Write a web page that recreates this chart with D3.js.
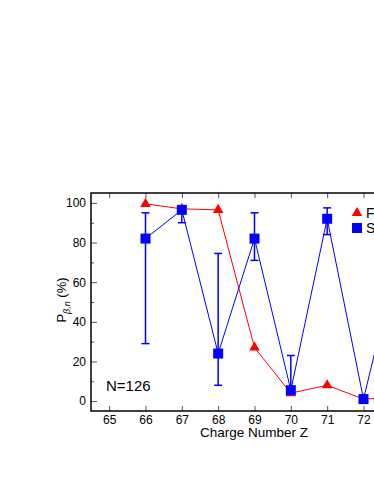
<!DOCTYPE html>
<html>
<head>
<meta charset="utf-8">
<script src="https://cdn.jsdelivr.net/npm/d3@7"></script>
<style>
  body { margin: 0; background: #fff; }
  svg { display: block; font-family: "Liberation Sans", Arial, sans-serif; }
</style>
</head>
<body>
<div id="chart"></div>
<script>
// values
var charges = [66, 67, 68, 69, 70, 71, 72, 73];
var frdm = [99.5, 97, 96.5, 27, 4, 8, 1, 2];
var sm = [82, 96.5, 24, 82, 5.5, 92, 1, 77];
var smLow = [29, 90, 8, 71, 3, 84, 0, 70];
var smHigh = [95, 97, 74.5, 95, 23, 97.5, 3, 84];
var xTicks = [65, 66, 67, 68, 69, 70, 71, 72];
var yTicks = [0, 20, 40, 60, 80, 100];
var legendNames = ["FRDM+QRPA", "Shell Model"];

var W = 374, H = 484;
var margin = {top: 193, right: -44, bottom: 73, left: 91};
var width = W - margin.left - margin.right,
    height = H - margin.top - margin.bottom;

var svg = d3.select("#chart").append("svg")
    .attr("width", W).attr("height", H)
  .append("g")
    .attr("transform", "translate(" + margin.left + "," + margin.top + ")");

var x = d3.scaleLinear().domain([64.5, 73.5]).range([0, width]);
var y = d3.scaleLinear().domain([-5, 105]).range([height, 0]);

// bottom axis, ticks pointing inward
var xAxis = svg.append("g")
  .attr("transform", "translate(0," + height + ")")
  .call(d3.axisBottom(x).tickValues(xTicks).tickSize(-5).tickPadding(4).tickFormat(d3.format("d")));
xAxis.select(".domain").remove();
xAxis.selectAll("text").style("font-size", "12px").attr("fill", "#000");
xAxis.selectAll("line").attr("stroke", "#555");

// top ticks
var xTop = svg.append("g")
  .call(d3.axisTop(x).tickValues(xTicks).tickSize(-5).tickFormat(""));
xTop.select(".domain").remove();
xTop.selectAll("line").attr("stroke", "#555");

// left axis, major + minor
var yAxis = svg.append("g")
  .call(d3.axisLeft(y).tickValues(yTicks).tickSize(-6).tickPadding(5));
yAxis.select(".domain").remove();
yAxis.selectAll("text").style("font-size", "12px").attr("fill", "#000");
yAxis.selectAll("line").attr("stroke", "#555");
var yMinor = svg.append("g")
  .call(d3.axisLeft(y).tickValues([10, 30, 50, 70, 90]).tickSize(-3).tickFormat(""));
yMinor.select(".domain").remove();
yMinor.selectAll("line").attr("stroke", "#555");

// frame
svg.append("rect")
  .attr("x", 0).attr("y", 0)
  .attr("width", width).attr("height", height)
  .attr("fill", "none").attr("stroke", "#000").attr("stroke-width", 1.5);

// red series
svg.append("path")
  .datum(charges.map(function(c, i) { return [c, frdm[i]]; }))
  .attr("fill", "none").attr("stroke", "#ff0000").attr("stroke-width", 1)
  .attr("d", d3.line().x(function(d) { return x(d[0]); }).y(function(d) { return y(d[1]); }));

// blue series line
svg.append("path")
  .datum(charges.map(function(c, i) { return [c, sm[i]]; }))
  .attr("fill", "none").attr("stroke", "#0000ff").attr("stroke-width", 1)
  .attr("d", d3.line().x(function(d) { return x(d[0]); }).y(function(d) { return y(d[1]); }));

// error bars
var eb = svg.append("g").attr("stroke", "#0000ff").attr("stroke-width", 1.5);
charges.forEach(function(c, i) {
  var cx = x(c);
  eb.append("line").attr("x1", cx).attr("x2", cx).attr("y1", y(smLow[i])).attr("y2", y(smHigh[i]));
  eb.append("line").attr("x1", cx - 4).attr("x2", cx + 4).attr("y1", y(smLow[i])).attr("y2", y(smLow[i]));
  eb.append("line").attr("x1", cx - 4).attr("x2", cx + 4).attr("y1", y(smHigh[i])).attr("y2", y(smHigh[i]));
});

// red triangles
svg.append("g").selectAll("path")
  .data(charges.map(function(c, i) { return [c, frdm[i]]; }))
  .enter().append("path")
  .attr("transform", function(d) { return "translate(" + x(d[0]) + "," + y(d[1]) + ")"; })
  .attr("d", d3.symbol().type(d3.symbolTriangle).size(48))
  .attr("fill", "#ff0000");

// blue squares
svg.append("g").selectAll("rect")
  .data(charges.map(function(c, i) { return [c, sm[i]]; }))
  .enter().append("rect")
  .attr("x", function(d) { return x(d[0]) - 5; })
  .attr("y", function(d) { return y(d[1]) - 5; })
  .attr("width", 10).attr("height", 10)
  .attr("fill", "#0000ff");

// legend
var lg = svg.append("g").attr("transform", "translate(266,20)");
lg.append("path").attr("d", d3.symbol().type(d3.symbolTriangle).size(48)).attr("fill", "#ff0000");
lg.append("text").attr("x", 9).attr("y", 5).style("font-size", "14px").text(legendNames[0]);
lg.append("rect").attr("x", -5).attr("y", 10).attr("width", 10).attr("height", 10).attr("fill", "#0000ff");
lg.append("text").attr("x", 9).attr("y", 20).style("font-size", "14px").text(legendNames[1]);

// annotation
svg.append("text").attr("x", 15).attr("y", 198).style("font-size", "15px").text("N=126");

// axis titles
svg.append("text")
  .attr("x", 163).attr("y", 244)
  .attr("text-anchor", "middle")
  .style("font-size", "13.5px")
  .text("Charge Number Z");

var yl = svg.append("text")
  .attr("transform", "translate(-25," + 107 + ") rotate(-90)")
  .attr("text-anchor", "middle")
  .style("font-size", "13px");
yl.append("tspan").text("P");
yl.append("tspan").attr("dy", 4).style("font-size", "9px").style("font-style", "italic").text("β,n");
yl.append("tspan").attr("dy", -4).text(" (%)");
</script>
</body>
</html>
